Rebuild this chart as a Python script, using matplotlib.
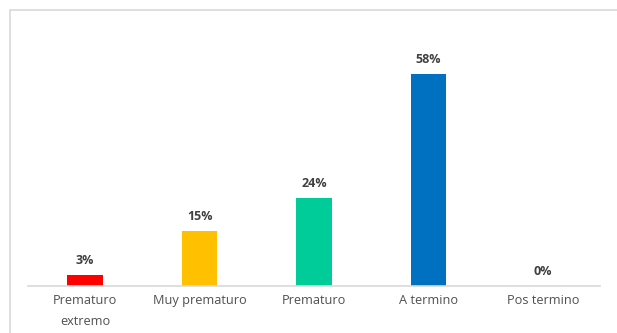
import matplotlib.pyplot as plt
from matplotlib.patches import Rectangle

# datos
categorias = ['Prematuro\nextremo', 'Muy prematuro', 'Prematuro', 'A termino', 'Pos termino']
porcentajes = [3, 15, 24, 58, 0]
colores = ['#ff0000', '#ffc000', '#00cc99', '#0070c0', '#a5a5a5']

plt.rcParams['font.family'] = ['Open Sans', 'DejaVu Sans']

fig = plt.figure(figsize=(6.17, 3.33), dpi=100)
ax = fig.add_axes([28 / 617, 47 / 333, 572 / 617, 256 / 333])

x = range(len(categorias))
ax.bar(x, porcentajes, width=0.31, color=colores)

for i, v in zip(x, porcentajes):
    ax.text(i, v + 2.2, '{}%'.format(v), ha='center', va='bottom',
            fontsize=9, fontweight='bold', color='#404040')

ax.set_xlim(-0.5, 4.5)
ax.set_ylim(0, 70)
ax.set_xticks(list(x))
ax.set_xticklabels(categorias, fontsize=9.2, color='#505050', linespacing=1.75)
ax.tick_params(axis='x', length=0, pad=6)
ax.set_yticks([])
for s in ['top', 'right', 'left']:
    ax.spines[s].set_visible(False)
ax.spines['bottom'].set_color('#d9d9d9')
ax.spines['bottom'].set_linewidth(1.2)

# marco del grafico
fig.patches.append(Rectangle((10 / 617, -0.1), 1.2, 0.97 + 0.1, transform=fig.transFigure,
                             fill=False, edgecolor='#d9d9d9', linewidth=1.2))

fig.savefig('out.png', dpi=100)
